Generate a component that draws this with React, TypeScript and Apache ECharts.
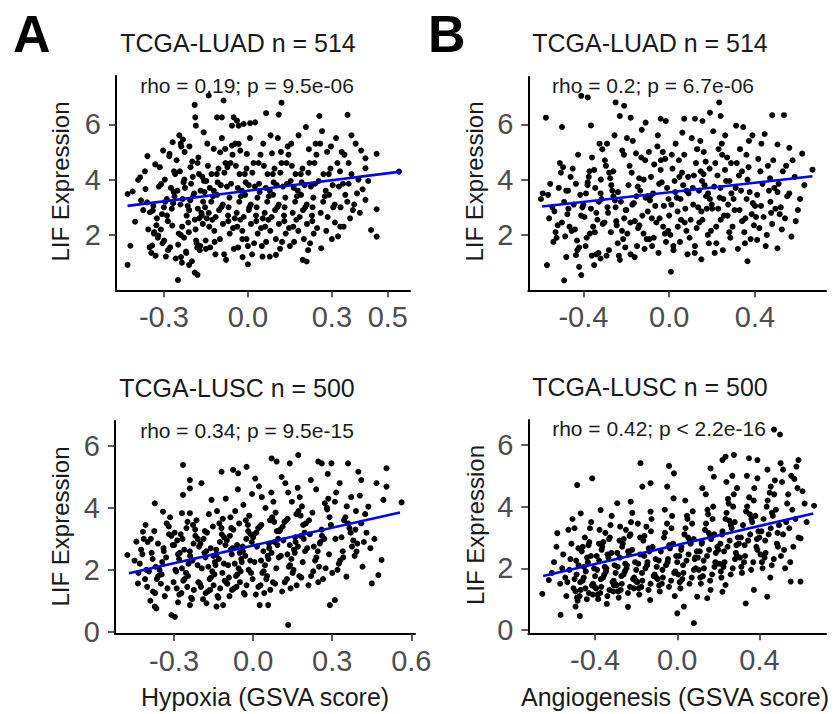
import React, { useEffect, useRef } from "react";
import * as echarts from "echarts";

const FONT = "'Liberation Sans', Arial, Helvetica, sans-serif";

// Panel A top: Hypoxia vs LIF, TCGA-LUAD
const hypoxiaLUAD: number[][] = [
[-0.43,0.92],[-0.42,1.61],[-0.43,3.48],[-0.412,3.57],[-0.392,3.99],[-0.403,2.48],[-0.366,3.66],[-0.36,3.18],[-0.385,4.08],[-0.374,2.9],[-0.356,2.2],[-0.351,1.55],[-0.368,4.3],[-0.382,3.25],[-0.359,4.85],
[-0.28,4.93],[-0.33,1.25],[-0.26,4.2],[-0.31,3.84],[-0.29,3.3],[-0.34,2.88],[-0.27,2.34],[-0.32,1.98],[-0.3,3.0],[-0.35,2.82],[-0.285,1.45],[-0.335,2.1],[-0.265,3.55],[-0.315,4.45],[-0.295,3.2],[-0.325,2.6],[-0.275,3.7],[-0.305,1.7],[-0.255,4.7],[-0.345,1.35],[-0.278,1.55],[-0.322,1.9],[-0.289,2.7],[-0.338,3.05],[-0.262,3.4],[-0.311,2.2],[-0.297,4.0],[-0.331,4.55],[-0.269,5.35],[-0.303,5.05],[-0.286,2.5],[-0.258,1.15],[-0.25,0.37],[-0.342,1.62],[-0.272,2.95],[-0.318,3.75],[-0.252,3.6],[-0.293,1.22],[-0.327,2.35],[-0.264,4.3],[-0.307,2.75],[-0.281,4.85],[-0.336,2.05],[-0.267,3.15],[-0.299,1.8],
[-0.245,5.6],[-0.238,5.2],[-0.232,5.45],[-0.226,5.0],[-0.24,5.3],[-0.19,6.7],[-0.188,6.25],[-0.186,5.95],[-0.158,5.71],[-0.19,0.64],[-0.18,0.56],[-0.21,0.92],
[-0.18,4.6],[-0.23,3.9],[-0.16,3.2],[-0.21,2.9],[-0.19,2.55],[-0.24,2.0],[-0.17,1.6],[-0.22,1.35],[-0.2,1.05],[-0.185,1.8],[-0.235,2.3],[-0.165,2.7],[-0.215,3.05],[-0.195,3.4],[-0.225,3.7],[-0.175,4.2],[-0.205,4.45],[-0.155,3.55],[-0.228,1.9],[-0.172,1.45],[-0.211,2.1],[-0.197,4.1],[-0.239,1.2],[-0.181,1.55],[-0.247,2.05],[-0.161,2.4],[-0.219,2.7],[-0.153,3.0],[-0.233,3.3],[-0.169,3.6],[-0.203,3.85],[-0.243,4.3],[-0.177,4.8],[-0.209,5.2],[-0.187,2.2],[-0.151,1.8],[-0.221,1.4],[-0.166,2.8],[-0.199,4.65],[-0.157,3.95],[-0.241,3.1],[-0.183,1.7],[-0.213,2.45],[-0.192,3.5],[-0.236,1.0],[-0.163,4.1],[-0.227,4.0],[-0.174,2.6],[-0.206,3.25],[-0.249,1.65],[-0.179,2.95],
[-0.14,7.04],[-0.087,6.86],[-0.11,6.25],[-0.093,6.25],[-0.057,5.95],[-0.051,6.25],[-0.122,5.11],[-0.099,4.99],[-0.081,5.11],[-0.057,5.23],
[-0.08,4.6],[-0.13,4.2],[-0.06,3.85],[-0.11,3.45],[-0.09,3.1],[-0.14,2.8],[-0.07,2.5],[-0.12,2.15],[-0.1,1.85],[-0.15,1.5],[-0.085,1.3],[-0.135,1.55],[-0.065,2.05],[-0.115,2.65],[-0.095,3.0],[-0.125,3.4],[-0.075,3.75],[-0.105,4.4],[-0.055,4.9],[-0.145,5.3],[-0.078,1.1],[-0.122,3.6],[-0.089,2.4],[-0.138,2.3],[-0.062,4.6],[-0.111,4.2],[-0.097,3.8],[-0.131,3.2],[-0.069,3.0],[-0.147,2.6],[-0.103,2.9],[-0.119,1.75],[-0.071,2.7],[-0.143,4.5],[-0.093,5.5],[-0.127,2.55],[-0.066,3.35],[-0.108,3.9],[-0.084,4.25],[-0.136,3.7],[-0.053,2.25],[-0.116,1.3],[-0.073,4.45],[-0.149,3.95],
[-0.039,6.13],[-0.033,5.95],[-0.015,6.01],[0.008,6.04],[0.026,6.07],[-0.033,5.29],[-0.027,5.05],[-0.004,4.93],[0.0,0.94],
[-0.02,1.85],[-0.005,1.85],[0.02,4.6],[-0.03,4.2],[0.04,3.85],[-0.01,3.45],[0.01,3.1],[-0.04,2.8],[0.03,2.5],[-0.02,2.15],[0.0,1.6],[-0.05,1.5],[0.015,1.3],[-0.035,1.55],[0.035,2.05],[-0.015,2.65],[0.005,3.0],[-0.025,3.4],[0.025,3.75],[-0.005,4.4],[0.045,4.9],[-0.045,5.3],[0.022,1.7],[-0.022,3.6],[0.011,2.4],[-0.038,2.3],[0.038,4.6],[-0.011,4.2],[0.003,3.8],[-0.031,3.2],[0.031,3.0],[-0.047,2.6],[0.003,2.9],[-0.019,1.2],[0.029,2.7],[-0.043,4.5],[0.007,5.5],[-0.027,2.55],[0.034,3.35],[-0.008,3.9],[0.016,4.25],[-0.036,3.7],[0.047,2.25],[0.042,3.55],
[0.065,6.4],[0.11,6.35],[0.12,6.78],[0.052,1.22],[0.078,1.22],[0.1,1.28],
[0.12,4.6],[0.07,4.2],[0.14,3.85],[0.09,3.45],[0.11,3.1],[0.06,2.8],[0.13,2.5],[0.08,2.15],[0.1,1.85],[0.05,1.6],[0.115,1.5],[0.065,1.75],[0.135,2.05],[0.085,2.65],[0.105,3.0],[0.075,3.4],[0.125,3.75],[0.095,4.4],[0.145,4.9],[0.055,5.3],[0.122,1.75],[0.078,3.6],[0.111,2.4],[0.062,2.3],[0.138,4.6],[0.089,4.2],[0.103,3.8],[0.069,3.2],[0.131,3.0],[0.053,2.6],[0.097,2.9],[0.081,5.6],[0.129,2.7],[0.057,4.5],[0.107,5.5],[0.073,2.55],[0.134,3.35],[0.092,3.9],[0.116,4.25],[0.064,3.7],[0.147,2.25],[0.142,5.2],[0.118,5.0],[0.086,4.95],
[0.196,1.1],[0.21,1.04],[0.22,4.6],[0.17,4.2],[0.24,3.85],[0.19,3.45],[0.21,3.1],[0.16,2.8],[0.23,2.5],[0.18,2.15],[0.2,1.85],[0.15,1.6],[0.215,1.45],[0.165,1.75],[0.235,2.05],[0.185,2.65],[0.205,3.0],[0.175,3.4],[0.225,3.75],[0.195,4.4],[0.245,4.9],[0.155,5.3],[0.222,1.7],[0.178,3.6],[0.211,2.4],[0.162,2.3],[0.238,4.6],[0.189,4.2],[0.203,3.8],[0.169,3.2],[0.231,3.0],[0.153,3.95],[0.197,2.9],[0.181,5.6],[0.229,2.7],[0.157,4.5],[0.207,5.9],[0.173,2.55],[0.234,3.35],[0.192,3.9],[0.216,4.25],[0.164,3.7],[0.247,2.25],[0.242,5.3],[0.218,5.1],
[0.255,6.3],[0.262,1.52],[0.33,2.3],[0.342,2.3],[0.32,4.6],[0.27,4.2],[0.34,3.85],[0.29,3.45],[0.31,3.1],[0.26,2.8],[0.28,2.15],[0.3,1.85],[0.315,5.5],[0.265,5.75],[0.335,5.0],[0.285,2.65],[0.305,3.0],[0.275,3.4],[0.325,3.75],[0.295,4.4],[0.345,4.9],[0.258,5.3],[0.322,1.95],[0.278,3.6],[0.311,2.45],[0.348,3.45],[0.289,4.2],[0.303,3.8],[0.269,3.2],[0.331,3.0],[0.253,3.95],[0.297,5.2],[0.329,4.3],[0.283,5.0],
[0.356,6.34],[0.42,4.77],[0.42,4.41],[0.39,3.5],[0.44,2.18],[0.42,3.27],[0.37,4.2],[0.36,3.85],[0.38,3.1],[0.4,2.8],[0.365,2.6],[0.385,5.3],[0.37,5.6],[0.395,4.0],[0.355,3.2],[0.41,3.65],[0.375,2.9],[0.36,4.6],[0.405,5.05],[0.43,3.95],
[0.46,4.93],[0.54,4.29],[0.46,2.93],[0.46,1.94]
];

// Panel B top: Angiogenesis vs LIF, TCGA-LUAD
const angioLUAD: number[][] = [
[-0.598,3.3],[-0.59,3.5],[-0.575,6.24],[-0.57,0.91],[-0.5,5.9],[-0.53,2.1],[-0.56,2.6],[-0.515,3.7],[-0.545,3.0],[-0.505,4.25],[-0.54,1.75],[-0.52,2.35],[-0.555,3.85],[-0.51,4.6],[-0.525,1.9],[-0.565,3.45],[-0.535,2.85],
[-0.49,0.36],[-0.48,1.2],[-0.435,1.27],[-0.41,0.55],[-0.42,0.85],[-0.41,7.03],
[-0.43,1.8],[-0.48,3.6],[-0.41,2.7],[-0.46,4.1],[-0.44,2.2],[-0.49,3.2],[-0.42,1.55],[-0.47,2.95],[-0.45,4.4],[-0.5,2.45],[-0.435,3.85],[-0.485,1.95],[-0.415,3.45],[-0.465,2.3],[-0.445,3.1],[-0.475,2.75],[-0.425,4.9],[-0.455,2.15],[-0.405,3.0],[-0.495,4.45],[-0.428,1.45],[-0.472,3.6],
[-0.38,6.97],[-0.365,5.96],[-0.35,0.91],[-0.32,1.15],
[-0.33,1.35],[-0.38,3.9],[-0.31,2.4],[-0.36,4.8],[-0.34,2.8],[-0.39,1.6],[-0.32,3.5],[-0.37,2.05],[-0.35,4.35],[-0.4,3.1],[-0.335,2.55],[-0.385,1.9],[-0.315,3.3],[-0.365,2.95],[-0.345,3.7],[-0.375,4.1],[-0.325,5.3],[-0.355,2.3],[-0.395,2.65],[-0.328,3.2],[-0.372,4.3],[-0.339,1.3],[-0.388,3.5],[-0.361,1.25],[-0.312,5.1],[-0.347,2.1],[-0.381,3.8],[-0.302,2.45],[-0.319,4.0],
[-0.25,6.79],[-0.21,6.67],[-0.23,6.3],
[-0.23,1.1],[-0.28,4.25],[-0.21,2.6],[-0.26,3.4],[-0.24,1.7],[-0.29,5.3],[-0.22,2.15],[-0.27,3.8],[-0.25,3.0],[-0.3,4.7],[-0.235,1.25],[-0.285,2.8],[-0.215,1.85],[-0.265,3.6],[-0.245,2.35],[-0.275,4.05],[-0.225,3.2],[-0.255,5.6],[-0.205,1.55],[-0.295,4.5],[-0.272,2.1],[-0.239,3.55],[-0.211,4.9],[-0.288,3.0],[-0.247,2.5],[-0.281,1.45],[-0.219,5.05],[-0.253,3.25],[-0.292,1.25],[-0.203,2.9],[-0.261,4.3],
[-0.18,6.24],[-0.11,6.06],
[-0.13,4.8],[-0.18,1.3],[-0.11,3.35],[-0.16,2.5],[-0.14,4.05],[-0.19,3.8],[-0.12,2.05],[-0.17,5.4],[-0.15,1.6],[-0.2,2.9],[-0.135,3.6],[-0.185,4.5],[-0.115,1.5],[-0.165,3.15],[-0.145,2.25],[-0.175,4.25],[-0.125,2.7],[-0.155,4.95],[-0.105,1.85],[-0.195,2.05],[-0.128,5.8],[-0.172,3.1],[-0.139,2.35],[-0.112,4.7],[-0.161,1.2],[-0.147,3.75],[-0.181,2.45],[-0.119,4.0],[-0.153,3.4],[-0.197,5.5],[-0.102,3.4],
[-0.04,6.2],[-0.016,6.12],
[-0.03,5.0],[-0.08,1.6],[-0.01,3.7],[-0.06,2.45],[-0.04,4.35],[-0.09,3.25],[-0.02,2.05],[-0.07,4.55],[-0.05,1.35],[-0.1,2.85],[-0.035,3.9],[-0.085,4.1],[-0.015,1.75],[-0.065,3.05],[-0.045,2.6],[-0.075,3.5],[-0.025,3.05],[-0.055,5.2],[-0.005,2.15],[-0.095,5.0],[-0.028,2.3],[-0.072,1.9],[-0.039,4.7],[-0.088,3.4],[-0.047,3.85],[-0.081,2.6],[-0.019,4.75],[-0.053,5.6],[-0.092,1.85],[-0.003,3.3],
[0.008,0.67],[0.07,6.2],
[0.07,4.9],[0.02,1.45],[0.09,3.5],[0.04,2.3],[0.06,4.25],[0.01,3.1],[0.08,2.15],[0.03,5.3],[0.05,1.75],[0.0,2.7],[0.065,3.8],[0.015,4.4],[0.085,1.3],[0.035,3.35],[0.055,2.55],[0.025,3.95],[0.075,2.95],[0.045,4.7],[0.095,1.9],[0.005,2.0],[0.072,2.45],[0.028,3.55],[0.061,5.7],[0.012,4.9],[0.088,4.1],[0.039,2.85],[0.053,3.3],[0.019,1.6],[0.081,3.6],[0.047,4.1],
[0.12,6.2],[0.155,6.12],[0.19,6.42],[0.15,1.12],
[0.17,4.65],[0.12,1.6],[0.19,3.3],[0.14,2.45],[0.16,4.2],[0.11,3.7],[0.18,2.0],[0.13,5.1],[0.15,2.85],[0.1,2.55],[0.165,3.8],[0.115,4.15],[0.185,1.7],[0.135,3.0],[0.155,2.55],[0.125,4.6],[0.175,2.95],[0.145,5.4],[0.195,2.15],[0.105,5.5],[0.172,3.4],[0.128,2.25],[0.161,5.0],[0.112,3.1],[0.188,4.4],[0.139,3.6],[0.153,3.95],[0.119,1.35],[0.181,3.5],[0.147,4.3],[0.198,3.1],
[0.233,6.79],[0.24,6.3],
[0.27,4.8],[0.22,1.7],[0.29,3.5],[0.24,2.55],[0.26,4.35],[0.21,3.75],[0.28,2.1],[0.23,5.1],[0.25,1.45],[0.2,2.95],[0.265,3.95],[0.215,4.6],[0.285,1.9],[0.235,3.35],[0.255,2.7],[0.225,4.15],[0.275,3.1],[0.245,5.3],[0.295,2.3],[0.205,5.75],[0.272,2.7],[0.228,2.95],[0.261,5.6],[0.212,1.35],[0.288,4.6],[0.239,3.7],[0.253,3.3],[0.219,2.3],[0.281,3.95],[0.247,4.9],
[0.365,1.05],
[0.37,4.45],[0.32,1.5],[0.39,3.15],[0.34,2.5],[0.36,4.9],[0.31,3.7],[0.38,1.85],[0.33,5.1],[0.35,2.1],[0.3,3.3],[0.365,4.0],[0.315,4.6],[0.385,2.75],[0.335,3.6],[0.355,2.6],[0.325,4.15],[0.375,3.55],[0.345,5.9],[0.395,2.35],[0.305,2.9],[0.372,5.4],[0.328,2.9],[0.361,3.3],[0.312,5.95],[0.388,5.6],[0.339,4.3],[0.353,1.7],
[0.41,1.82],[0.48,6.33],
[0.47,4.05],[0.42,2.25],[0.49,3.7],[0.44,2.65],[0.46,4.5],[0.41,3.45],[0.48,2.4],[0.43,5.3],[0.45,1.6],[0.4,3.05],[0.465,3.6],[0.415,4.75],[0.485,4.7],[0.435,3.85],[0.455,2.0],[0.425,4.3],[0.475,2.8],[0.445,5.65],[0.495,2.95],[0.405,2.65],[0.472,3.2],[0.428,3.05],
[0.535,6.33],[0.505,1.52],[0.57,1.94],[0.6,2.9],[0.668,4.36],[0.62,4.94],[0.56,5.15],[0.505,5.27],[0.53,4.3],[0.51,3.85],[0.55,3.4],[0.52,3.0],[0.54,2.6],[0.525,2.2],[0.575,4.7],[0.56,3.5],[0.585,4.1],[0.59,2.5],[0.545,4.5],[0.515,2.75],[0.61,3.3],[0.63,3.8],[0.505,3.55]
];

// Panel A bottom: Hypoxia vs LIF, TCGA-LUSC
const hypoxiaLUSC: number[][] = [
[-0.477,2.48],[-0.443,2.91],[-0.437,1.56],[-0.418,3.23],[-0.43,2.2],[-0.41,1.7],[-0.425,2.65],[-0.405,2.0],[-0.415,3.0],[-0.435,1.9],[-0.45,2.3],[-0.402,1.45],[-0.42,2.5],[-0.408,3.45],
[-0.373,4.15],[-0.342,3.88],[-0.373,0.81],[-0.367,0.75],[-0.31,0.54],[-0.297,0.48],
[-0.33,2.4],[-0.38,1.3],[-0.31,3.1],[-0.36,1.8],[-0.34,2.7],[-0.39,1.0],[-0.32,3.4],[-0.37,2.1],[-0.35,1.55],[-0.4,2.9],[-0.335,1.15],[-0.385,2.55],[-0.315,3.7],[-0.365,1.7],[-0.345,2.25],[-0.375,3.25],[-0.325,1.4],[-0.355,2.0],[-0.305,2.8],[-0.395,1.95],[-0.328,3.5],[-0.372,1.25],[-0.339,2.6],[-0.388,3.0],[-0.347,1.85],[-0.381,2.35],[-0.302,1.6],[-0.319,3.15],[-0.361,2.85],
[-0.266,5.39],[-0.24,4.9],[-0.24,4.63],[-0.266,4.42],[-0.27,3.83],[-0.24,3.83],[-0.24,0.86],[-0.285,0.95],
[-0.23,2.3],[-0.28,1.2],[-0.21,3.0],[-0.26,1.7],[-0.24,2.6],[-0.29,1.4],[-0.22,3.3],[-0.27,2.05],[-0.25,1.45],[-0.3,2.8],[-0.235,1.1],[-0.285,2.5],[-0.215,3.6],[-0.265,1.65],[-0.245,2.2],[-0.275,3.15],[-0.225,1.35],[-0.255,1.9],[-0.205,2.75],[-0.295,2.0],[-0.228,3.45],[-0.272,1.25],[-0.239,2.45],[-0.288,2.95],[-0.247,1.8],[-0.281,2.35],[-0.202,1.55],[-0.219,3.1],[-0.261,2.65],[-0.292,1.95],[-0.211,2.15],[-0.253,3.35],[-0.232,1.05],[-0.278,2.55],[-0.208,1.6],[-0.268,3.0],[-0.226,2.85],[-0.249,3.55],[-0.298,3.2],
[-0.196,4.8],[-0.12,5.17],[-0.139,0.81],[-0.114,0.86],[-0.177,0.92],
[-0.13,2.35],[-0.18,1.25],[-0.11,3.05],[-0.16,1.75],[-0.14,2.65],[-0.19,1.05],[-0.12,3.35],[-0.17,2.1],[-0.15,1.5],[-0.2,2.85],[-0.135,1.15],[-0.185,2.55],[-0.115,3.65],[-0.165,1.7],[-0.145,2.25],[-0.175,3.2],[-0.125,1.4],[-0.155,1.95],[-0.105,2.8],[-0.195,2.05],[-0.128,3.5],[-0.172,1.3],[-0.139,2.5],[-0.188,3.0],[-0.147,1.85],[-0.181,2.4],[-0.102,1.6],[-0.119,3.15],[-0.161,2.7],[-0.111,2.2],[-0.153,3.4],[-0.132,1.1],[-0.178,2.6],[-0.108,1.65],[-0.168,3.8],[-0.158,4.26],[-0.126,2.9],[-0.198,1.45],[-0.143,2.15],[-0.183,3.25],[-0.117,1.9],[-0.151,2.45],[-0.163,1.35],[-0.137,3.9],[-0.104,4.3],
[-0.076,5.23],[-0.057,5.12],[-0.025,5.33],
[-0.03,2.45],[-0.08,1.35],[-0.01,3.15],[-0.06,1.85],[-0.04,2.75],[-0.09,1.15],[-0.02,3.45],[-0.07,2.2],[-0.05,1.6],[-0.1,2.95],[-0.035,1.25],[-0.085,2.65],[-0.015,3.75],[-0.065,1.8],[-0.045,2.35],[-0.075,3.3],[-0.025,1.5],[-0.055,2.05],[-0.005,2.9],[-0.095,2.15],[-0.028,3.6],[-0.072,1.4],[-0.039,2.6],[-0.088,3.1],[-0.047,1.95],[-0.081,2.5],[-0.002,1.7],[-0.019,3.25],[-0.061,2.8],[-0.092,1.75],[-0.011,2.3],[-0.053,3.5],[-0.032,1.2],[-0.078,2.7],[-0.008,1.9],[-0.068,3.9],[-0.058,4.6],[-0.026,3.0],[-0.098,1.55],[-0.043,2.25],[-0.083,3.35],[-0.017,2.0],[-0.051,2.55],[-0.063,1.45],[-0.037,4.1],[-0.004,4.45],[-0.086,3.7],
[0.025,0.86],[0.057,0.86],[0.07,5.6],[0.089,5.5],
[0.07,2.55],[0.02,1.45],[0.09,3.25],[0.04,1.95],[0.06,2.85],[0.01,1.2],[0.08,3.55],[0.03,2.3],[0.05,1.7],[0.0,3.05],[0.065,1.35],[0.015,2.75],[0.085,3.85],[0.035,1.9],[0.055,2.45],[0.025,3.4],[0.075,1.6],[0.045,2.15],[0.095,3.0],[0.005,2.25],[0.072,3.7],[0.028,1.5],[0.061,2.7],[0.012,3.2],[0.088,2.05],[0.039,2.6],[0.053,1.8],[0.019,3.35],[0.081,2.9],[0.047,4.0],[0.022,4.7],[0.008,4.95],[0.033,4.35],[0.097,2.4],[0.064,3.6],[0.042,1.25],[0.092,2.8],[0.077,4.2],[0.003,3.15],[0.083,1.55],[0.058,2.35],[0.031,3.45],[0.069,4.5],
[0.139,5.44],[0.171,5.71],[0.133,0.22],
[0.17,2.75],[0.12,1.6],[0.19,3.45],[0.14,2.15],[0.16,3.05],[0.11,1.3],[0.18,3.75],[0.13,2.5],[0.15,1.9],[0.1,3.25],[0.165,1.5],[0.115,2.95],[0.185,4.05],[0.135,2.1],[0.155,2.65],[0.125,3.6],[0.175,1.8],[0.145,2.35],[0.195,3.2],[0.105,2.45],[0.172,3.9],[0.128,1.7],[0.161,2.9],[0.112,3.4],[0.188,2.25],[0.139,2.8],[0.153,2.0],[0.119,3.55],[0.181,3.1],[0.147,4.2],[0.122,4.8],[0.108,5.0],[0.133,4.5],[0.197,2.6],[0.164,3.8],[0.142,1.4],[0.192,3.0],[0.177,4.35],[0.103,3.3],[0.183,1.75],[0.158,2.55],[0.131,3.65],[0.169,4.65],
[0.247,5.5],[0.26,5.44],[0.297,5.44],[0.291,0.86],
[0.27,3.0],[0.22,1.8],[0.29,3.7],[0.24,2.4],[0.26,3.3],[0.21,1.5],[0.28,4.0],[0.23,2.75],[0.25,2.1],[0.2,3.5],[0.265,1.7],[0.215,3.15],[0.285,4.3],[0.235,2.3],[0.255,2.9],[0.225,3.85],[0.275,2.05],[0.245,2.6],[0.295,3.45],[0.205,2.7],[0.272,4.15],[0.228,1.95],[0.261,3.1],[0.212,3.6],[0.288,2.5],[0.239,4.6],[0.283,5.1],[0.219,4.9],[0.253,2.85],[0.281,3.95],[0.247,1.6],
[0.36,5.44],[0.399,5.17],[0.392,2.59],[0.354,1.78],[0.31,1.02],
[0.37,3.2],[0.32,2.0],[0.39,3.9],[0.34,2.6],[0.36,3.5],[0.31,4.2],[0.38,2.95],[0.33,2.3],[0.35,3.7],[0.3,1.9],[0.365,3.35],[0.315,4.5],[0.385,2.45],[0.335,3.05],[0.355,4.05],[0.325,2.2],[0.375,2.75],[0.345,3.6],[0.395,2.85],[0.372,4.35],[0.328,4.8],[0.312,3.0],[0.388,3.3],[0.342,2.4],
[0.506,5.28],[0.468,4.8],[0.506,4.69],[0.494,4.26],[0.563,4.18],[0.437,4.04],[0.487,2.32],[0.475,1.83],[0.45,1.56],
[0.41,3.5],[0.42,2.9],[0.43,3.2],[0.405,4.4],[0.445,2.7],[0.415,2.1],[0.425,3.8],[0.46,3.0],[0.41,4.9]
];

// Panel B bottom: Angiogenesis vs LIF, TCGA-LUSC
const angioLUSC: number[][] = [
[-0.657,1.17],[-0.625,1.62],[-0.588,2.7],[-0.584,3.14],[-0.568,0.49],[-0.5,3.3],[-0.487,4.7],
[-0.6,2.2],[-0.61,1.85],[-0.57,1.5],[-0.555,2.45],[-0.54,1.1],[-0.525,1.95],[-0.515,2.8],[-0.53,3.25],[-0.56,2.0],[-0.505,1.35],[-0.545,1.7],[-0.52,2.3],[-0.535,1.55],[-0.51,3.6],
[-0.474,0.45],[-0.495,0.76],[-0.414,4.92],[-0.47,3.78],
[-0.43,1.2],[-0.48,2.1],[-0.41,1.5],[-0.46,2.7],[-0.44,1.0],[-0.49,1.8],[-0.42,2.4],[-0.47,1.3],[-0.45,3.0],[-0.5,1.65],[-0.435,2.2],[-0.485,0.95],[-0.415,1.45],[-0.465,2.55],[-0.445,1.9],[-0.475,1.1],[-0.425,3.3],[-0.455,1.7],[-0.405,2.0],[-0.495,1.25],[-0.428,2.85],[-0.472,1.55],[-0.439,2.35],[-0.488,1.05],[-0.447,1.35],[-0.481,2.65],[-0.402,1.4],[-0.419,3.5],[-0.461,1.6],[-0.492,2.25],[-0.411,1.15],[-0.453,2.05],[-0.432,2.75],
[-0.373,3.89],
[-0.33,1.3],[-0.38,2.25],[-0.31,1.6],[-0.36,2.85],[-0.34,1.1],[-0.39,1.95],[-0.32,2.5],[-0.37,1.4],[-0.35,3.15],[-0.4,1.75],[-0.335,2.35],[-0.385,1.0],[-0.315,1.55],[-0.365,2.7],[-0.345,2.0],[-0.375,1.2],[-0.325,3.4],[-0.355,1.8],[-0.305,2.1],[-0.395,1.35],[-0.328,3.0],[-0.372,1.65],[-0.339,2.45],[-0.388,1.15],[-0.347,1.9],[-0.381,2.8],[-0.302,1.5],[-0.319,3.7],[-0.361,1.7],[-0.392,2.4],[-0.311,1.25],[-0.353,2.05],[-0.332,2.95],[-0.378,3.25],[-0.308,1.45],[-0.368,2.6],[-0.343,0.85],
[-0.292,4.11],[-0.227,4.16],
[-0.23,1.4],[-0.28,2.35],[-0.21,1.7],[-0.26,2.95],[-0.24,1.2],[-0.29,2.05],[-0.22,2.6],[-0.27,1.5],[-0.25,3.25],[-0.3,1.85],[-0.235,2.45],[-0.285,1.05],[-0.215,1.65],[-0.265,2.8],[-0.245,2.1],[-0.275,1.3],[-0.225,3.5],[-0.255,1.9],[-0.205,2.2],[-0.295,1.45],[-0.228,3.1],[-0.272,1.75],[-0.239,2.55],[-0.288,1.25],[-0.247,2.0],[-0.281,2.9],[-0.202,1.6],[-0.219,3.8],[-0.261,1.8],[-0.292,2.5],[-0.211,1.35],[-0.253,2.15],[-0.232,3.05],[-0.278,3.35],[-0.24,0.75],[-0.268,2.7],
[-0.179,5.41],[-0.17,4.65],[-0.13,4.76],[-0.13,3.84],
[-0.13,1.5],[-0.18,2.45],[-0.11,1.8],[-0.16,3.05],[-0.14,1.3],[-0.19,2.15],[-0.12,2.7],[-0.17,1.6],[-0.15,3.35],[-0.2,1.95],[-0.135,2.55],[-0.185,1.15],[-0.115,1.75],[-0.165,2.9],[-0.145,2.2],[-0.175,1.4],[-0.125,3.6],[-0.155,2.0],[-0.105,2.3],[-0.195,1.55],[-0.128,3.2],[-0.172,1.85],[-0.139,2.65],[-0.188,1.35],[-0.147,2.1],[-0.181,3.0],[-0.102,1.7],[-0.132,0.97],[-0.161,2.4],[-0.192,3.45],
[-0.04,5.32],[-0.016,5.08],[-0.049,4.65],[0.0,0.54],
[-0.03,1.6],[-0.08,2.55],[-0.01,1.9],[-0.06,3.15],[-0.04,1.4],[-0.09,2.25],[-0.02,2.8],[-0.07,1.7],[-0.05,3.45],[-0.1,2.05],[-0.035,2.65],[-0.085,1.25],[-0.015,1.85],[-0.065,3.0],[-0.045,2.3],[-0.075,1.5],[-0.025,3.7],[-0.055,2.1],[-0.005,2.4],[-0.095,1.65],[-0.028,3.3],[-0.072,1.95],[-0.039,2.75],[-0.088,1.45],[-0.047,2.2],[-0.018,4.27],[-0.061,3.9],[-0.012,1.1],
[0.032,0.76],[0.081,0.22],[0.097,1.08],
[0.07,1.7],[0.02,2.7],[0.09,2.0],[0.04,3.3],[0.06,1.5],[0.01,2.4],[0.08,2.95],[0.03,1.85],[0.05,3.6],[0.0,2.2],[0.065,2.8],[0.015,1.35],[0.085,2.3],[0.035,3.1],[0.055,2.45],[0.025,1.65],[0.075,3.85],[0.045,2.25],[0.095,2.55],[0.005,1.8],[0.072,3.45],[0.028,2.1],[0.061,2.9],[0.012,1.55],[0.088,2.35],[0.039,4.2],[0.053,3.0],[0.019,2.6],[0.081,1.95],[0.047,3.7],
[0.146,1.03],[0.162,1.3],[0.162,5.24],[0.178,4.97],
[0.17,1.8],[0.12,2.85],[0.19,2.15],[0.14,3.45],[0.16,1.6],[0.11,2.55],[0.18,3.1],[0.13,2.0],[0.15,3.75],[0.1,2.35],[0.165,2.95],[0.115,1.5],[0.185,2.2],[0.135,3.25],[0.155,2.6],[0.125,1.75],[0.175,4.0],[0.145,2.4],[0.195,2.7],[0.105,1.95],[0.172,3.6],[0.128,2.25],[0.161,3.05],[0.112,1.7],[0.188,2.5],[0.139,4.4],[0.153,3.15],[0.119,2.8],[0.181,2.05],[0.147,3.9],[0.122,4.6],
[0.22,1.24],[0.235,1.46],[0.22,5.51],[0.235,5.62],[0.276,5.68],
[0.27,2.0],[0.22,3.2],[0.29,2.4],[0.24,3.8],[0.26,1.8],[0.21,2.8],[0.28,3.5],[0.23,2.2],[0.25,4.1],[0.2,2.6],[0.265,3.3],[0.215,1.7],[0.285,2.5],[0.235,3.6],[0.255,2.9],[0.225,2.05],[0.275,4.4],[0.245,2.7],[0.295,3.0],[0.205,2.15],[0.272,4.0],[0.228,2.55],[0.261,3.4],[0.212,1.9],[0.288,2.75],[0.239,4.8],[0.253,3.55],[0.219,3.1],[0.281,2.3],[0.247,4.25],[0.268,5.0],[0.291,4.6],
[0.333,0.86],[0.373,1.3],[0.349,5.57],[0.39,5.51],[0.39,4.92],
[0.37,2.2],[0.32,3.4],[0.39,2.6],[0.34,4.0],[0.36,1.95],[0.31,3.0],[0.38,3.7],[0.33,2.4],[0.35,4.3],[0.3,2.8],[0.365,3.5],[0.315,1.85],[0.385,2.7],[0.335,3.85],[0.355,3.1],[0.325,2.2],[0.375,4.6],[0.345,2.9],[0.395,3.2],[0.305,2.35],[0.372,4.2],[0.328,2.75],[0.361,3.6],[0.312,2.05],[0.388,2.95],[0.339,5.0],[0.353,3.75],
[0.438,1.08],[0.455,4.65],[0.471,6.5],[0.5,6.34],
[0.47,2.3],[0.42,3.6],[0.49,2.7],[0.44,4.2],[0.46,2.1],[0.41,3.2],[0.48,3.9],[0.43,2.5],[0.45,4.45],[0.4,3.0],[0.465,3.7],[0.415,2.0],[0.485,2.8],[0.435,4.0],[0.455,3.3],[0.425,2.35],[0.475,4.85],[0.445,3.1],[0.495,3.4],[0.405,2.45],[0.472,4.4],[0.428,2.9],[0.461,3.8],[0.412,2.2],[0.488,3.15],[0.439,5.2],[0.453,1.7],
[0.552,1.57],[0.6,1.57],[0.6,2.97],[0.666,4.03],[0.58,5.3],[0.59,5.51],[0.503,5.41],
[0.51,4.8],[0.52,2.6],[0.53,3.5],[0.54,4.4],[0.55,2.2],[0.56,3.9],[0.57,4.9],[0.515,3.1],[0.525,2.0],[0.535,4.1],[0.545,3.3],[0.555,5.0],[0.565,2.7],[0.575,3.6],[0.585,4.6],[0.62,4.1],[0.505,2.4],[0.61,4.5],[0.59,3.0],[0.63,3.5],[0.515,5.2]
];

// Linear fit end points
const fitHypoxiaLUAD: number[][] = [[-0.43, 3.05], [0.546, 4.29]];
const fitAngioLUAD: number[][] = [[-0.593, 3.03], [0.668, 4.12]];
const fitHypoxiaLUSC: number[][] = [[-0.471, 1.89], [0.557, 3.85]];
const fitAngioLUSC: number[][] = [[-0.653, 1.75], [0.662, 3.78]];

// Tick labels
const xTicksHypoxiaLUAD = [-0.3, 0.0, 0.3, 0.5];
const xTicksAngio = [-0.4, 0.0, 0.4];
const xTicksHypoxiaLUSC = [-0.3, 0.0, 0.3, 0.6];
const yTicksLUAD = [2, 4, 6];
const yTicksLUSC = [0, 2, 4, 6];

// Texts
const panelLetters = ["A", "B"];
const panelTitles = ["TCGA-LUAD n = 514", "TCGA-LUAD n = 514", "TCGA-LUSC n = 500", "TCGA-LUSC n = 500"];
const corrLabels = ["rho = 0.19; p = 9.5e-06", "rho = 0.2; p = 6.7e-06", "rho = 0.34; p = 9.5e-15", "rho = 0.42; p < 2.2e-16"];
const xTitles = ["Hypoxia (GSVA score)", "Angiogenesis (GSVA score)"];
const yTitle = "LIF Expression";

const panels = [
  { data: hypoxiaLUAD, fit: fitHypoxiaLUAD, xTicks: xTicksHypoxiaLUAD, yTicks: yTicksLUAD,
    grid: { left: 116, top: 76, width: 294, height: 214.3 }, x: [-0.4713, 0.5792], y: [0, 7.745] },
  { data: angioLUAD, fit: fitAngioLUAD, xTicks: xTicksAngio, yTicks: yTicksLUAD,
    grid: { left: 528.3, top: 77, width: 297.7, height: 213.3 }, x: [-0.657, 0.731], y: [0, 7.71] },
  { data: hypoxiaLUSC, fit: fitHypoxiaLUSC, xTicks: xTicksHypoxiaLUSC, yTicks: yTicksLUSC,
    grid: { left: 115, top: 421, width: 300, height: 213 }, x: [-0.524, 0.614], y: [-0.074, 6.81] },
  { data: angioLUSC, fit: fitAngioLUSC, xTicks: xTicksAngio, yTicks: yTicksLUSC,
    grid: { left: 528.3, top: 420, width: 297.7, height: 213.3 }, x: [-0.725, 0.724], y: [-0.107, 6.81] },
];

const textLayout = {
  letters: [{ x: 13, y: 34 }, { x: 428, y: 34 }],
  titles: [{ x: 238, y: 42.5 }, { x: 650, y: 42.5 }, { x: 237, y: 388 }, { x: 650, y: 387 }],
  corr: [{ x: 247, y: 85 }, { x: 653, y: 85 }, { x: 247, y: 430 }, { x: 659, y: 428.5 }],
  yTitles: [{ x: 60, y: 181.5 }, { x: 474, y: 181.5 }, { x: 60, y: 526.5 }, { x: 475, y: 525 }],
  xTitles: [{ x: 265, y: 697 }, { x: 675, y: 697 }],
};

export default function App() {
  const ref = useRef<HTMLDivElement>(null);
  useEffect(() => {
    document.body.style.margin = "0";
    if (!ref.current) return;
    const chart = echarts.init(ref.current, undefined, { renderer: "svg" });

    const grid = panels.map((p) => ({ ...p.grid, containLabel: false }));
    const xAxis = panels.map((p, i) => ({
      type: "value", gridIndex: i, min: p.x[0], max: p.x[1],
      axisLine: { show: true, onZero: false, lineStyle: { color: "#000", width: 2 } },
      axisTick: { show: true, length: 7, customValues: p.xTicks, lineStyle: { color: "#333", width: 1.6 } },
      axisLabel: { show: true, customValues: p.xTicks, margin: 12, fontSize: 29, color: "#4D4D4D", fontFamily: FONT,
        formatter: (v: number) => v.toFixed(1) },
      splitLine: { show: false },
    }));
    const yAxis = panels.map((p, i) => ({
      type: "value", gridIndex: i, min: p.y[0], max: p.y[1],
      axisLine: { show: true, onZero: false, lineStyle: { color: "#000", width: 2 } },
      axisTick: { show: true, length: 7, customValues: p.yTicks, lineStyle: { color: "#333", width: 1.6 } },
      axisLabel: { show: true, customValues: p.yTicks, margin: 15, fontSize: 29, color: "#4D4D4D", fontFamily: FONT,
        formatter: (v: number) => String(Math.round(v)) },
      splitLine: { show: false },
    }));
    const series: any[] = [];
    panels.forEach((p, i) => {
      series.push({ type: "scatter", xAxisIndex: i, yAxisIndex: i, data: p.data, symbolSize: 6,
        itemStyle: { color: "#000", opacity: 1 }, z: 2, silent: true });
      series.push({ type: "line", xAxisIndex: i, yAxisIndex: i, data: p.fit, symbol: "none",
        lineStyle: { color: "#0000FF", width: 2.6 }, z: 3, silent: true });
    });

    const graphic: any[] = [];
    panelLetters.forEach((t, i) => graphic.push({ type: "text", x: textLayout.letters[i].x, y: textLayout.letters[i].y,
      style: { text: t, fontSize: 52, fontWeight: "bold", fontFamily: FONT, fill: "#000", align: "left", verticalAlign: "middle" } }));
    panelTitles.forEach((t, i) => graphic.push({ type: "text", x: textLayout.titles[i].x, y: textLayout.titles[i].y,
      style: { text: t, fontSize: 25, fontFamily: FONT, fill: "#1a1a1a", align: "center", verticalAlign: "middle" } }));
    corrLabels.forEach((t, i) => graphic.push({ type: "text", x: textLayout.corr[i].x, y: textLayout.corr[i].y, z: 10,
      style: { text: t, fontSize: 21, fontFamily: FONT, fill: "#1a1a1a", align: "center", verticalAlign: "middle" } }));
    textLayout.yTitles.forEach((pos) => graphic.push({ type: "text", x: pos.x, y: pos.y, rotation: Math.PI / 2,
      style: { text: yTitle, fontSize: 24, fontFamily: FONT, fill: "#1a1a1a", align: "center", verticalAlign: "middle" } }));
    xTitles.forEach((t, i) => graphic.push({ type: "text", x: textLayout.xTitles[i].x, y: textLayout.xTitles[i].y,
      style: { text: t, fontSize: 25, fontFamily: FONT, fill: "#1a1a1a", align: "center", verticalAlign: "middle" } }));

    chart.setOption({ animation: false, backgroundColor: "#fff", grid, xAxis, yAxis, series, graphic });
    return () => chart.dispose();
  }, []);
  return <div ref={ref} style={{ width: 834, height: 714 }} />;
}
